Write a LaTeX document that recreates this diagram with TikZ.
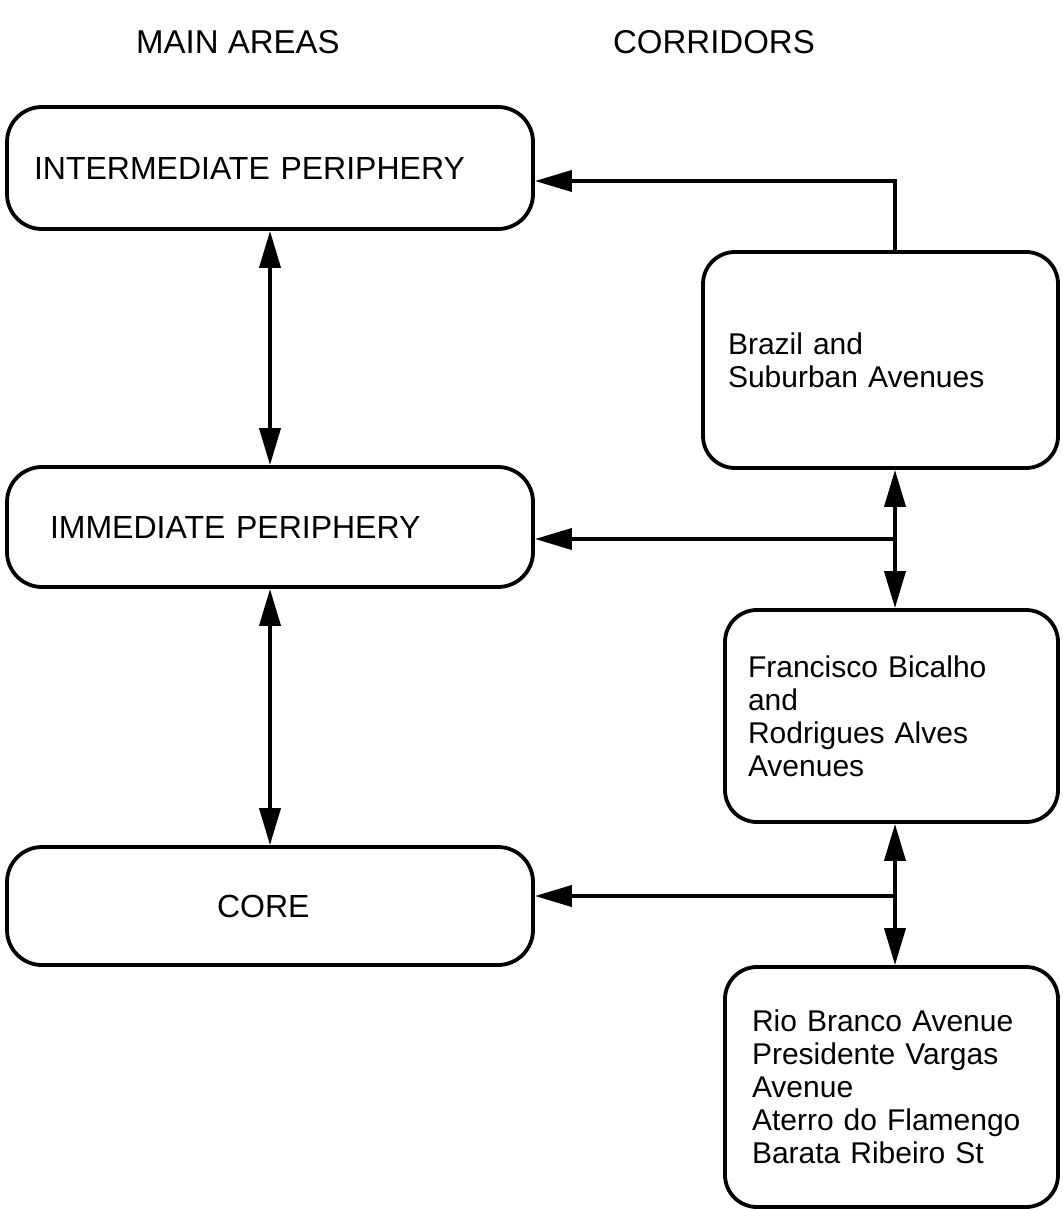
\documentclass[tikz,border=0pt]{standalone}
\usepackage{fontspec}
\setmainfont{Liberation Sans}
\usetikzlibrary{arrows.meta}

\begin{document}
\begin{tikzpicture}[x=1pt,y=-1pt,
    head/.style={font=\fontsize{33}{38}\selectfont},
    area/.style={draw=black, line width=3.8pt, rounded corners=35pt, inner ysep=0pt, align=left, minimum width=526pt, font=\fontsize{32}{38}\selectfont},
    corridor/.style={draw=black, line width=3.8pt, rounded corners=32pt, inner ysep=0pt, align=left, font=\fontsize{30}{33}\selectfont},
    link/.style={draw=black, line width=3.8pt, -{Triangle[length=37pt,width=21pt]}},
    twoway/.style={draw=black, line width=3.8pt, {Triangle[length=37pt,width=21pt]}-{Triangle[length=37pt,width=21pt]}}]
       \useasboundingbox (0,0) rectangle (1062,1209);
       \node[head] (mainhead) at (238,42) {MAIN AREAS};
       \node[head] (corrhead) at (714,42) {CORRIDORS};
       \node[area, inner xsep=27pt, text width=472pt, minimum height=122pt] (inter) at (270,168) {INTERMEDIATE PERIPHERY};
       \node[area, inner xsep=43pt, text width=440pt, minimum height=120pt] (immed) at (270,527) {IMMEDIATE PERIPHERY};
       \node[area, inner xsep=210pt, text width=106pt, minimum height=118pt] (core) at (270,906) {CORE};
       \node[corridor, inner xsep=25pt, text width=305pt, minimum height=216pt] (brazil) at (880.5,360) {Brazil and\\Suburban Avenues};
       \node[corridor, inner xsep=23pt, text width=287pt, minimum height=212pt] (bicalho) at (891.5,716) {Francisco Bicalho\\and\\Rodrigues Alves\\Avenues};
       \node[corridor, inner xsep=27pt, text width=279pt, minimum height=240pt] (riobranco) at (891.5,1087) {Rio Branco Avenue\\Presidente Vargas\\Avenue\\Aterro do Flamengo\\Barata Ribeiro St};
       \coordinate (turn) at (895,181);
       \coordinate (upper) at (895,539);
       \coordinate (lower) at (895,896);
       \draw[link] (brazil.north -| turn) -- (turn) -- (turn -| inter.east);
       \draw[twoway] (inter.south) -- (immed.north);
       \draw[twoway] (immed.south) -- (core.north);
       \draw[twoway] (brazil.south -| upper) -- (bicalho.north -| upper);
       \draw[link] (upper) -- (upper -| immed.east);
       \draw[twoway] (bicalho.south -| lower) -- (riobranco.north -| lower);
       \draw[link] (lower) -- (lower -| core.east);
\end{tikzpicture}
\end{document}
